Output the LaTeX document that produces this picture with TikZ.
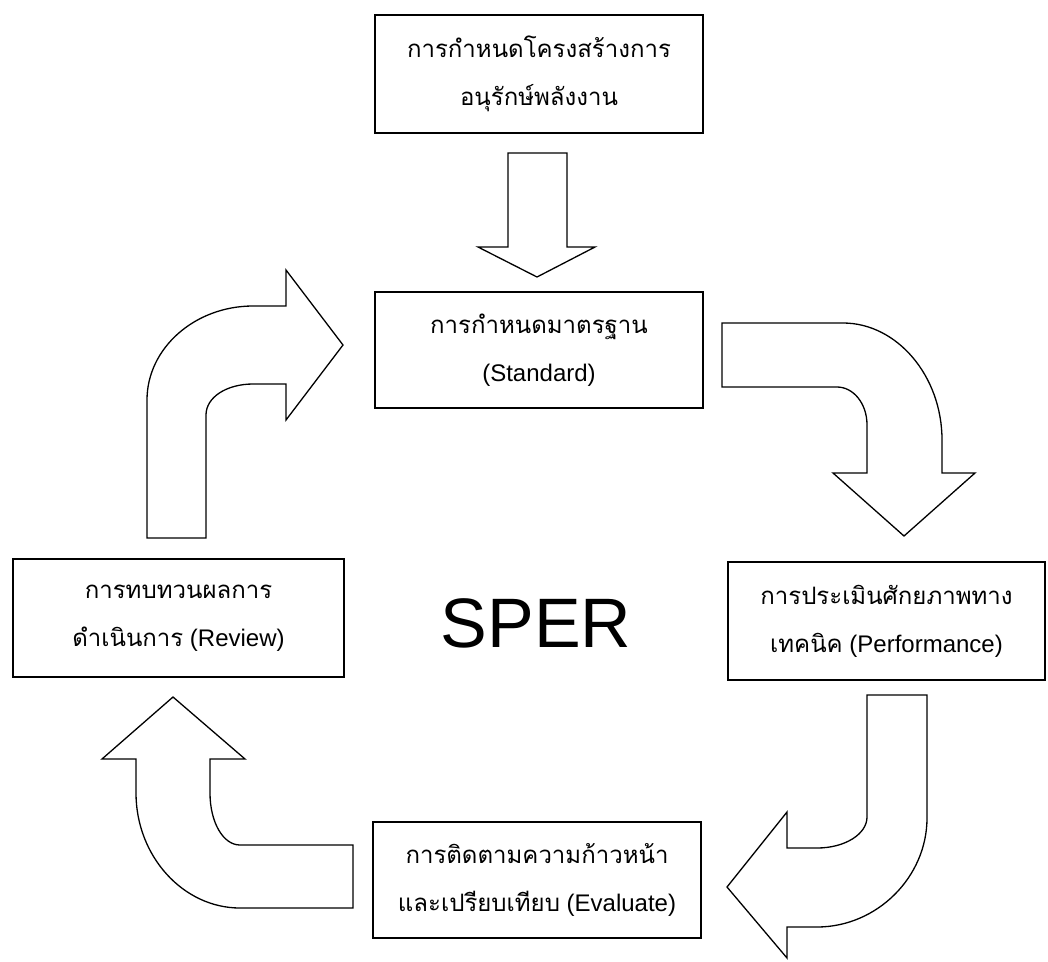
\documentclass[tikz,border=0pt]{standalone}
\usepackage{fontspec}
\setmainfont{Liberation Sans}
\newfontfamily\thaifont[Script=Thai]{Loma}
\newcommand{\thaitxt}[1]{{\thaifont #1}}
\begin{document}
\begin{tikzpicture}[x=1pt,y=-1pt,
  box/.style={draw=black,line width=1.6pt,fill=white,align=center,inner sep=0pt,
    font=\fontsize{24}{48}\selectfont},
  bigarrow/.style={draw=black,line width=1.3pt,fill=white,line join=miter}]
\useasboundingbox (0,0) rectangle (1048,961);
% boxes
\node[box,minimum width=328,minimum height=118] (top) at (539,74)
  {\thaitxt{การกำหนดโครงสร้างการ}\\\thaitxt{อนุรักษ์พลังงาน}};
\node[box,minimum width=328,minimum height=116] (std) at (539,350)
  {\thaitxt{การกำหนดมาตรฐาน}\\(Standard)};
\node[box,minimum width=331,minimum height=118] (rev) at (178.5,618)
  {\thaitxt{การทบทวนผลการ}\\\thaitxt{ดำเนินการ} (Review)};
\node[box,minimum width=317,minimum height=118] (perf) at (886.5,621)
  {\thaitxt{การประเมินศักยภาพทาง}\\\thaitxt{เทคนิค} (Performance)};
\node[box,minimum width=328,minimum height=116] (eval) at (537,880)
  {\thaitxt{การติดตามความก้าวหน้า}\\\thaitxt{และเปรียบเทียบ} (Evaluate)};
\node[font=\fontsize{70}{80}\selectfont,inner sep=0pt] (sper) at (536,623) {SPER};
% straight down arrow
\draw[bigarrow] (508,153) -- (567,153) -- (567,247) -- (595,247) -- (537,277)
  -- (478,247) -- (508,247) -- cycle;
% top-left curved arrow (review -> standard)
\draw[bigarrow] (147,538) -- (147,400) .. controls (147,348) and (195,306) .. (253,306)
  -- (286,306) -- (286,270) -- (343,345) -- (286,420) -- (286,384) -- (253,384)
  .. controls (227,384) and (206,397) .. (206,415) -- (206,538) -- cycle;
% top-right curved arrow (standard -> performance)
\draw[bigarrow] (722,323) -- (843,323) .. controls (897,323) and (942,376) .. (942,440)
  -- (942,473) -- (975,473) -- (904,536) -- (833,473) -- (867,473) -- (867,425)
  .. controls (867,403) and (853,387) .. (837,387) -- (722,387) -- cycle;
% bottom-right curved arrow (performance -> evaluate)
\draw[bigarrow] (867,695) -- (927,695) -- (927,818) .. controls (927,877) and (877,927) .. (817,927)
  -- (787,927) -- (787,958) -- (727,887) -- (787,812) -- (787,848) -- (817,848)
  .. controls (845,848) and (867,834) .. (867,817) -- cycle;
% bottom-left curved arrow (evaluate -> review)
\draw[bigarrow] (173,697) -- (245,759) -- (210,759) -- (210,793)
  .. controls (210,822) and (223,845) .. (240,845) -- (353,845) -- (353,908) -- (240,908)
  .. controls (183,908) and (136,856) .. (136,793) -- (136,759) -- (102,759) -- cycle;
\end{tikzpicture}
\end{document}
